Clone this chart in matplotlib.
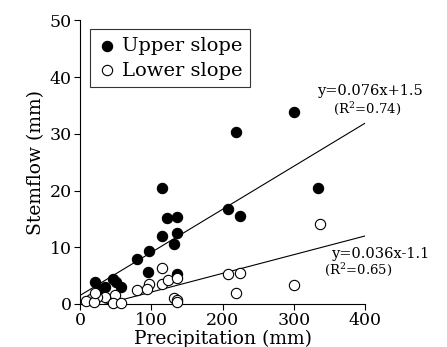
import numpy as np
import matplotlib.pyplot as plt

plt.rcParams['font.family'] = ['DejaVu Serif']
plt.rcParams['mathtext.fontset'] = 'dejavuserif'

# upper slope (filled)
upper_x = [114.6, 208, 224.6, 334.5, 122.6, 135.7, 114.6, 135.7, 132.4, 96.8,
           79.6, 95, 136.6, 46.8, 21, 35, 57, 28, 50, 218.5, 300.8]
upper_y = [20.4, 16.8, 15.6, 20.4, 15.1, 15.4, 12.0, 12.5, 10.6, 9.3,
           7.9, 5.6, 5.2, 4.4, 3.8, 3.0, 3.0, 2.6, 3.9, 30.3, 33.9]

# lower slope (open)
lower_x = [336, 114.6, 208, 224.6, 300.8, 218.5, 96.8, 79.6, 94.5, 114.6,
           123, 136.6, 132.4, 135.7, 135.7, 49, 35, 23.4, 15, 8.6, 20,
           46.8, 57, 21]
lower_y = [14.1, 6.3, 5.2, 5.5, 3.4, 1.9, 3.5, 2.5, 2.6, 3.5,
           4.2, 4.5, 1.1, 0.7, 0.3, 1.6, 1.2, 1.2, 0.8, 0.5, 0.3,
           0.2, 0.2, 2.0]

# trend lines as drawn in the figure (slope, intercept)
line_upper = (0.076, 1.5)
line_lower = (0.033, -1.2)

fig = plt.figure(figsize=(4.47, 3.47), dpi=100)
ax = fig.add_axes([0.179, 0.124, 0.638, 0.817])

ax.scatter(upper_x, upper_y, s=55, c='black', edgecolors='black', linewidths=0.8,
           label='Upper slope', zorder=3, clip_on=False)
ax.scatter(lower_x, lower_y, s=55, c='white', edgecolors='black', linewidths=0.8,
           label='Lower slope', zorder=3, clip_on=False)

xx = np.array([0, 400])
ax.plot(xx, line_upper[0] * xx + line_upper[1], color='black', lw=0.8)
ax.plot(xx, line_lower[0] * xx + line_lower[1], color='black', lw=0.8)

ax.set_xlim(0, 400)
ax.set_ylim(0, 50)
ax.set_xticks([0, 100, 200, 300, 400])
ax.set_yticks([0, 10, 20, 30, 40, 50])
ax.spines['top'].set_visible(False)
ax.spines['right'].set_visible(False)
ax.tick_params(direction='out', length=4, labelsize=12.5, pad=2)
ax.set_xlabel('Precipitation (mm)', fontsize=13.5, labelpad=0)
ax.set_ylabel('Stemflow (mm)', fontsize=13.5, labelpad=3)

leg = ax.legend(loc='upper left', bbox_to_anchor=(0.035, 0.97), fontsize=14,
                frameon=True, fancybox=False, edgecolor='black', handletextpad=0.25,
                borderpad=0.4, handlelength=1.0, labelspacing=0.35, borderaxespad=0)
leg.get_frame().set_linewidth(0.8)

ax.text(1.018, 0.751, 'y=0.076x+1.5', transform=ax.transAxes, fontsize=10.5,
        ha='center', va='center')
ax.text(1.007, 0.688, '(R$^2$=0.74)', transform=ax.transAxes, fontsize=9.5,
        ha='center', va='center')
ax.text(1.053, 0.176, 'y=0.036x-1.1', transform=ax.transAxes, fontsize=10.5,
        ha='center', va='center')
ax.text(0.975, 0.123, '(R$^2$=0.65)', transform=ax.transAxes, fontsize=9.5,
        ha='center', va='center')

fig.savefig('out.png', dpi=100)
